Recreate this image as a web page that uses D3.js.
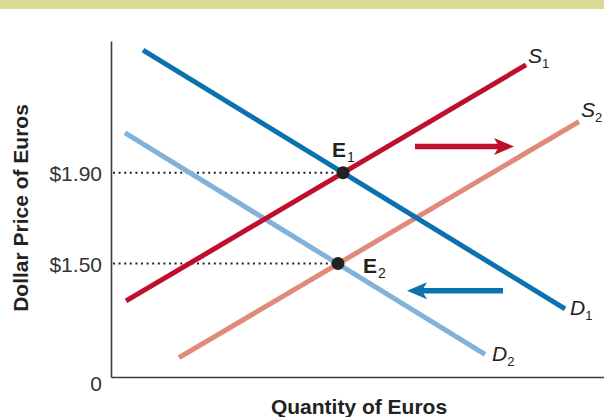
<!DOCTYPE html>
<html>
<head>
<meta charset="utf-8">
<script src="https://cdn.jsdelivr.net/npm/d3@7"></script>
<style>
  html, body { margin: 0; padding: 0; background: #fff; }
  svg { display: block; }
  text { font-family: "Liberation Sans", Arial, Helvetica, sans-serif; }
</style>
</head>
<body>
<svg id="chart" width="604" height="417"></svg>
<script>
// Market for euros: supply shifts right (S1 -> S2), demand shifts left (D1 -> D2)
const curveKind = ["D", "D", "S", "S"];
const curveSub  = ["1", "2", "1", "2"];
const curveQ    = [[6.4, 90.8], [2.8, 74.8], [3.0, 83.0], [13.6, 93.6]];
const curveP    = [[2.44, 1.30], [2.075, 1.10], [1.335, 2.375], [1.085, 2.125]];

const equilibriumSub = ["1", "2"];
const equilibriumQ   = [46.4, 45.4];
const equilibriumP   = [1.90, 1.50];

const priceTicks      = [1.50, 1.90];
const priceTickLabels = ["$1.50", "$1.90"];

// shift arrows: [start quantity, tip quantity] at a given price level
const shiftArrowQ = [[60.8, 80.6], [78.4, 59.2]];
const shiftArrowP = [2.015, 1.38];

const W = 604, H = 417;
const colors = { band: "#d8dc93", axis: "#3a3a3a", ink: "#222", tick: "#333" };
const curveColor = ["#0a72ae", "#82b2da", "#c00f2c", "#e1897b"];
const arrowColor = ["#c00f2c", "#0a72ae"];

const svg = d3.select("#chart");

// top band
svg.append("rect").attr("x", 0).attr("y", 0).attr("width", W).attr("height", 9)
  .attr("fill", colors.band);

const x = d3.scaleLinear().domain([0, 98.6]).range([111, 604]);
const y = d3.scaleLinear().domain([1.0, 2.48]).range([377, 41]);

// y axis with price ticks
const yAxis = d3.axisLeft(y)
  .tickValues(priceTicks)
  .tickFormat((d, i) => priceTickLabels[i])
  .tickSize(0).tickSizeOuter(0).tickPadding(9);
const gy = svg.append("g").attr("transform", `translate(${x(0)},0)`).call(yAxis);
gy.select(".domain").attr("stroke", colors.axis).attr("stroke-width", 1.6);
gy.selectAll("text")
  .attr("font-family", '"Liberation Sans", Arial, sans-serif')
  .attr("font-size", 21).attr("fill", colors.tick).attr("dy", "0.36em");

// x axis (no ticks)
const xAxis = d3.axisBottom(x).tickValues([]).tickSizeOuter(0);
const gx = svg.append("g").attr("transform", `translate(0,${y(1.0)})`).call(xAxis);
gx.select(".domain").attr("stroke", colors.axis).attr("stroke-width", 1.6);

// origin label
svg.append("text").attr("x", x(0) - 15).attr("y", y(1.0) + 14)
  .attr("text-anchor", "middle").attr("font-size", 21).attr("fill", colors.tick)
  .text("0");

// axis titles
svg.append("text").attr("x", 359).attr("y", 414)
  .attr("text-anchor", "middle").attr("font-size", 21).attr("font-weight", "bold")
  .attr("fill", colors.ink).text("Quantity of Euros");
svg.append("text").attr("transform", "translate(28,208) rotate(-90)")
  .attr("text-anchor", "middle").attr("font-size", 21).attr("font-weight", "bold")
  .attr("fill", colors.ink).text("Dollar Price of Euros");

// dotted guides from the price axis to each equilibrium
equilibriumP.forEach((p, i) => {
  svg.append("line")
    .attr("x1", x(0) + 2).attr("x2", x(equilibriumQ[i]))
    .attr("y1", y(p)).attr("y2", y(p))
    .attr("stroke", colors.ink).attr("stroke-width", 2)
    .attr("stroke-dasharray", "2,3.6");
});

// supply and demand curves
const line = d3.line().x(d => x(d[0])).y(d => y(d[1]));
const curveOrder = [1, 3, 0, 2];
curveOrder.forEach(i => {
  const pts = curveQ[i].map((q, k) => [q, curveP[i][k]]);
  svg.append("path").attr("d", line(pts))
    .attr("fill", "none").attr("stroke", curveColor[i]).attr("stroke-width", 5);
});

// curve labels at the right-hand ends
const labelOffset = [[5, 6], [7, 7], [2, -2], [2, -5]];
curveQ.forEach((qs, i) => {
  const t = svg.append("text")
    .attr("x", x(qs[1]) + labelOffset[i][0])
    .attr("y", y(curveP[i][1]) + labelOffset[i][1])
    .attr("font-size", 21).attr("font-style", "italic").attr("fill", colors.ink);
  t.append("tspan").text(curveKind[i]);
  t.append("tspan").attr("font-size", 13).attr("font-style", "normal")
    .attr("dx", 0).attr("dy", 5).text(curveSub[i]);
});

// shift arrows
shiftArrowQ.forEach((qs, i) => {
  const x0 = x(qs[0]), x1 = x(qs[1]), yy = y(shiftArrowP[i]);
  const dir = Math.sign(x1 - x0);
  const headLen = 20, headHalf = 8.5, notch = 5;
  svg.append("line")
    .attr("x1", x0).attr("x2", x1 - dir * (headLen - notch - 1))
    .attr("y1", yy).attr("y2", yy)
    .attr("stroke", arrowColor[i]).attr("stroke-width", 5.5);
  const bx = x1 - dir * headLen;
  svg.append("path")
    .attr("d", `M${x1},${yy} L${bx},${yy - headHalf} L${bx + dir * notch},${yy} L${bx},${yy + headHalf} Z`)
    .attr("fill", arrowColor[i]);
});

// equilibrium points and labels
const eqLabelOffset = [[-11, -16], [25, 10]];
equilibriumQ.forEach((q, i) => {
  svg.append("circle").attr("cx", x(q)).attr("cy", y(equilibriumP[i])).attr("r", 6.5)
    .attr("fill", colors.ink);
  const t = svg.append("text")
    .attr("x", x(q) + eqLabelOffset[i][0])
    .attr("y", y(equilibriumP[i]) + eqLabelOffset[i][1])
    .attr("font-size", 21).attr("font-weight", "bold").attr("fill", colors.ink);
  t.append("tspan").text("E");
  t.append("tspan").attr("font-size", 14).attr("font-weight", "normal")
    .attr("dx", 1).attr("dy", 5).text(equilibriumSub[i]);
});
</script>
</body>
</html>
